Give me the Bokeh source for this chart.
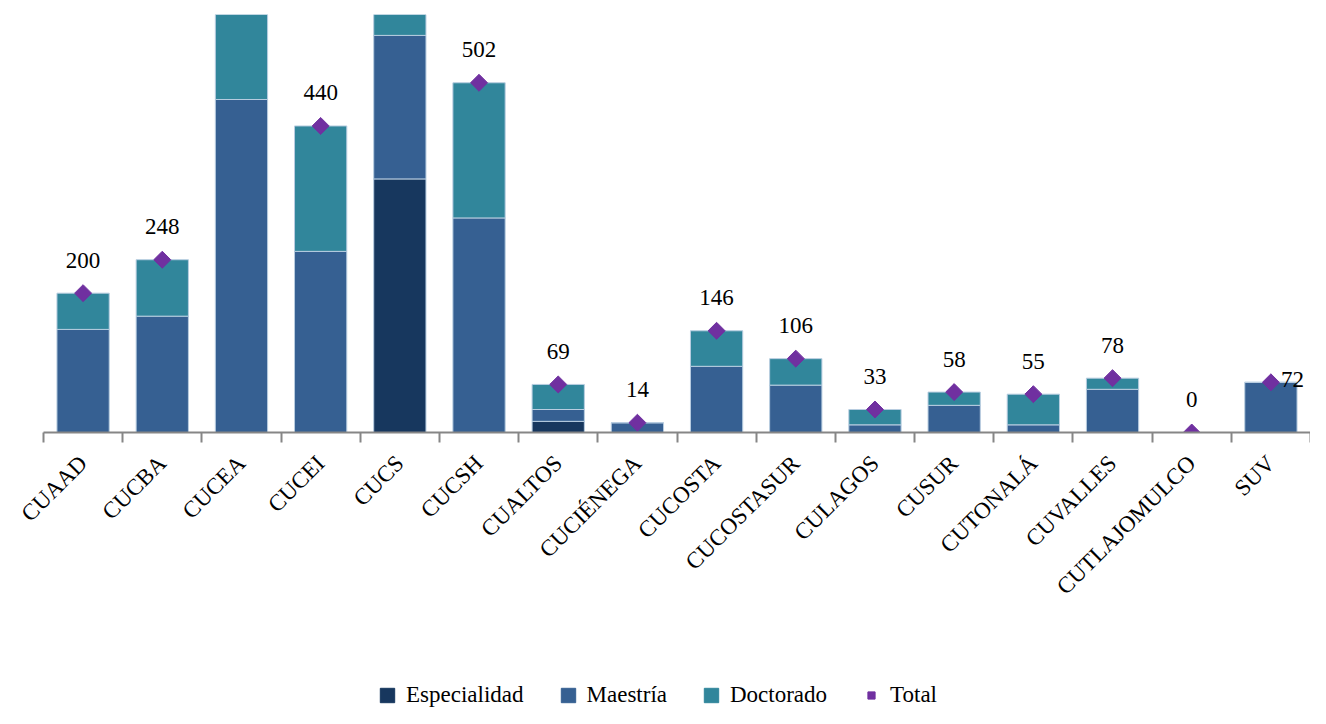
import math
from bokeh.plotting import figure
from bokeh.layouts import column
from bokeh.models import ColumnDataSource, Range1d, FixedTicker, Legend, LegendItem
from bokeh.core.properties import value
from bokeh.embed import file_html
from bokeh.resources import INLINE

centros = ["CUAAD", "CUCBA", "CUCEA", "CUCEI", "CUCS", "CUCSH", "CUALTOS", "CUCIÉNEGA",
           "CUCOSTA", "CUCOSTASUR", "CULAGOS", "CUSUR", "CUTONALÁ", "CUVALLES",
           "CUTLAJOMULCO", "SUV"]
especialidad = [0, 0, 0, 0, 364, 0, 16, 0, 0, 0, 0, 0, 0, 0, 0, 0]
maestria = [148, 167, 478, 260, 206, 308, 17, 14, 95, 68, 11, 39, 11, 62, 0, 72]
doctorado = [52, 81, 180, 180, 60, 194, 36, 0, 51, 38, 22, 19, 44, 16, 0, 0]
total = [200, 248, 658, 440, 630, 502, 69, 14, 146, 106, 33, 58, 55, 78, 0, 72]
series = ["Especialidad", "Maestría", "Doctorado", "Total"]

FONT = "Liberation Serif"
C_ESP = "#17375E"
C_MAE = "#366092"
C_DOC = "#31869B"
C_TOT = "#7030A0"
BAR_LINE = "#b8cde0"

n = len(centros)
xs = list(range(n))
src = ColumnDataSource(dict(
    x=xs, especialidad=especialidad, maestria=maestria, doctorado=doctorado,
    total=total,
))
last = n - 1
lbl_main = ColumnDataSource(dict(x=xs[:last], total=total[:last], lbl=[str(t) for t in total[:last]]))
lbl_side = ColumnDataSource(dict(x=xs[last:], total=total[last:], lbl=[str(t) for t in total[last:]]))

W = 1310
p = figure(width=W, height=652, output_backend="svg", toolbar_location=None,
           x_range=Range1d(-0.5, n - 0.5), y_range=Range1d(0, 600),
           min_border_left=43, min_border_right=0, min_border_top=14, min_border_bottom=220)
p.outline_line_color = None
p.grid.visible = False
p.yaxis.visible = False

bars = p.vbar_stack(["especialidad", "maestria", "doctorado"], x="x", width=0.66,
                    source=src, color=[C_ESP, C_MAE, C_DOC],
                    line_color=BAR_LINE, line_width=1)
pts = p.scatter(x="x", y="total", source=src, marker="square", angle=math.pi / 4, size=12,
                fill_color=C_TOT, line_color=C_TOT)

p.text(x="x", y="total", text="lbl", source=lbl_main, text_align="center",
       text_baseline="middle", y_offset=-33, text_font=value(FONT),
       text_font_size="23px", text_color="#000000")
p.text(x="x", y="total", text="lbl", source=lbl_side, text_align="left",
       text_baseline="middle", x_offset=10, y_offset=-3, text_font=value(FONT),
       text_font_size="23px", text_color="#000000")

ax = p.xaxis[0]
ax.ticker = FixedTicker(ticks=xs, minor_ticks=[i - 0.5 for i in range(n + 1)])
ax.major_label_overrides = {i: c for i, c in zip(xs, centros)}
ax.major_label_orientation = math.pi / 4
ax.major_label_text_font = FONT
ax.major_label_text_font_size = "23px"
ax.major_label_text_color = "#000000"
ax.major_tick_out = 0
ax.major_tick_in = 0
ax.minor_tick_out = 10
ax.minor_tick_in = 0
ax.minor_tick_line_color = "#868686"
ax.minor_tick_line_width = 2
ax.axis_line_color = "#868686"
ax.axis_line_width = 2
ax.major_label_standoff = 17

# legend strip below the chart (proxy renderers sit outside the visible range)
p2 = figure(width=W, height=56, output_backend="svg", toolbar_location=None,
            x_range=Range1d(0, 1), y_range=Range1d(0, 1),
            x_axis_type=None, y_axis_type=None,
            min_border_left=0, min_border_right=0, min_border_top=0, min_border_bottom=0)
p2.outline_line_color = None
p2.grid.visible = False
proxy = ColumnDataSource(dict(x=[-5], top=[-5], y=[-5]))
r_esp = p2.vbar(x="x", top="top", width=0.5, source=proxy, fill_color=C_ESP, line_color=C_ESP)
r_mae = p2.vbar(x="x", top="top", width=0.5, source=proxy, fill_color=C_MAE, line_color=C_MAE)
r_doc = p2.vbar(x="x", top="top", width=0.5, source=proxy, fill_color=C_DOC, line_color=C_DOC)
r_tot = p2.scatter(x="x", y="y", source=proxy, marker="square", angle=math.pi / 4, size=12,
                   fill_color=C_TOT, line_color=C_TOT)

legend = Legend(items=[
    LegendItem(label=series[0], renderers=[r_esp]),
    LegendItem(label=series[1], renderers=[r_mae]),
    LegendItem(label=series[2], renderers=[r_doc]),
    LegendItem(label=series[3], renderers=[r_tot]),
], orientation="horizontal", location=(335, 0))
legend.label_text_font = FONT
legend.label_text_font_size = "23px"
legend.label_text_color = "#000000"
legend.glyph_width = 18
legend.glyph_height = 18
legend.spacing = 35
legend.label_standoff = 10
legend.padding = 0
legend.margin = 0
legend.border_line_alpha = 0
legend.background_fill_alpha = 0
p2.add_layout(legend, "center")

layout = column(p, p2, spacing=0)
open("out.html", "w").write(file_html(layout, INLINE))
